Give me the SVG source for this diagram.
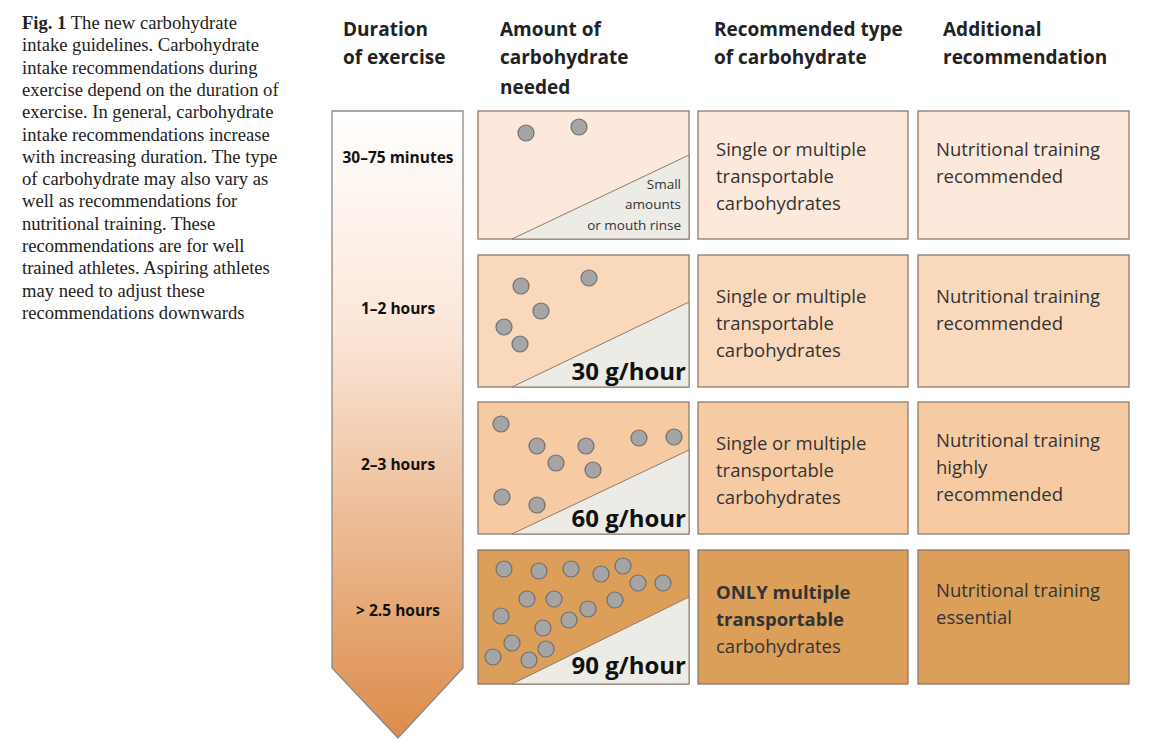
<svg xmlns="http://www.w3.org/2000/svg" width="1160" height="751" viewBox="0 0 1160 751">
<defs>
<linearGradient id="ag" x1="0" y1="0" x2="0" y2="1">
<stop offset="0" stop-color="#ffffff"/>
<stop offset="0.35" stop-color="#fbe6d8"/>
<stop offset="1" stop-color="#dc8c4a"/>
</linearGradient>
<style>
.cap{font-family:"Liberation Serif",serif;font-size:18.6px;fill:#222}
.h{font-family:"Open Sans","Noto Sans",sans-serif;font-size:19px;font-weight:bold;fill:#222}
.d{font-family:"Open Sans","Noto Sans",sans-serif;font-size:15.5px;font-weight:bold;fill:#111;text-anchor:middle}
.t{font-family:"Open Sans","Noto Sans",sans-serif;font-size:18.5px;fill:#333}
.s{font-family:"Open Sans","Noto Sans",sans-serif;font-size:13.5px;fill:#333;text-anchor:end}
.g{font-family:"Open Sans","Noto Sans",sans-serif;font-size:24px;font-weight:bold;fill:#111;text-anchor:end}
.box{stroke:#8e7b6b;stroke-width:1.3}
.tri{fill:#ecebe6;stroke:#8e7b6b;stroke-width:1}
.dot circle{fill:#a5a5a5;stroke:#6f6f6f;stroke-width:1.2}
</style>
</defs>
<rect width="1160" height="751" fill="#fff"/>
<text class="cap"><tspan x="22" y="29"><tspan font-weight="bold">Fig. 1</tspan>  The new carbohydrate</tspan><tspan x="22" y="51.3">intake guidelines. Carbohydrate</tspan><tspan x="22" y="73.6">intake recommendations during</tspan><tspan x="22" y="95.9">exercise depend on the duration of</tspan><tspan x="22" y="118.2">exercise. In general, carbohydrate</tspan><tspan x="22" y="140.5">intake recommendations increase</tspan><tspan x="22" y="162.8">with increasing duration. The type</tspan><tspan x="22" y="185.1">of carbohydrate may also vary as</tspan><tspan x="22" y="207.4">well as recommendations for</tspan><tspan x="22" y="229.7">nutritional training. These</tspan><tspan x="22" y="252">recommendations are for well</tspan><tspan x="22" y="274.3">trained athletes. Aspiring athletes</tspan><tspan x="22" y="296.6">may need to adjust these</tspan><tspan x="22" y="318.9">recommendations downwards</tspan></text>
<g id="headers">
<text class="h"><tspan x="343" y="36">Duration</tspan><tspan x="343" y="64">of exercise</tspan></text>
<text class="h"><tspan x="500" y="36">Amount of</tspan><tspan x="500" y="64">carbohydrate</tspan><tspan x="500" y="94">needed</tspan></text>
<text class="h"><tspan x="714" y="36">Recommended type</tspan><tspan x="714" y="64">of carbohydrate</tspan></text>
<text class="h"><tspan x="943" y="36">Additional</tspan><tspan x="943" y="64">recommendation</tspan></text>
</g>
<g id="arrow">
<path d="M332,111 H463 V668 L398,738 L332,668 Z" fill="url(#ag)" stroke="#8a8a8a" stroke-width="1.3"/>
<text class="d" x="398" y="163">30–75 minutes</text>
<text class="d" x="398" y="314">1–2 hours</text>
<text class="d" x="398" y="470">2–3 hours</text>
<text class="d" x="398" y="616">&gt; 2.5 hours</text>
</g>
<g id="row1">
<rect class="box" x="478" y="111" width="211" height="128" fill="#fce9dc"/>
<path class="tri" d="M512,239 L689,155 V239 Z"/>
<g class="dot"><circle cx="526" cy="133" r="8"/><circle cx="579" cy="127" r="8"/></g>
<text class="s"><tspan x="681" y="189">Small</tspan><tspan x="681" y="209">amounts</tspan><tspan x="681" y="230">or mouth rinse</tspan></text>
<rect class="box" x="698" y="111" width="210" height="128" fill="#fce9dc"/>
<text class="t"><tspan x="716" y="156">Single or multiple</tspan><tspan x="716" y="183">transportable</tspan><tspan x="716" y="210">carbohydrates</tspan></text>
<rect class="box" x="918" y="111" width="211" height="128" fill="#fce9dc"/>
<text class="t"><tspan x="936" y="156">Nutritional training</tspan><tspan x="936" y="183">recommended</tspan></text>
</g>
<g id="row2">
<rect class="box" x="478" y="255" width="211" height="132" fill="#f9d8bc"/>
<path class="tri" d="M512,387 L689,302 V387 Z"/>
<g class="dot"><circle cx="521" cy="286" r="8"/><circle cx="589" cy="278" r="8"/><circle cx="541" cy="311" r="8"/><circle cx="504" cy="327" r="8"/><circle cx="520" cy="344" r="8"/></g>
<text class="g" x="686" y="380">30 g/hour</text>
<rect class="box" x="698" y="255" width="210" height="132" fill="#f9d8bc"/>
<text class="t"><tspan x="716" y="303">Single or multiple</tspan><tspan x="716" y="330">transportable</tspan><tspan x="716" y="357">carbohydrates</tspan></text>
<rect class="box" x="918" y="255" width="211" height="132" fill="#f9d8bc"/>
<text class="t"><tspan x="936" y="303">Nutritional training</tspan><tspan x="936" y="330">recommended</tspan></text>
</g>
<g id="row3">
<rect class="box" x="478" y="402" width="211" height="132" fill="#f6cba3"/>
<path class="tri" d="M512,534 L689,450 V534 Z"/>
<g class="dot"><circle cx="501" cy="424" r="8"/><circle cx="537" cy="446" r="8"/><circle cx="586" cy="446" r="8"/><circle cx="639" cy="438" r="8"/><circle cx="674" cy="437" r="8"/><circle cx="556" cy="463" r="8"/><circle cx="593" cy="470" r="8"/><circle cx="502" cy="497" r="8"/><circle cx="537" cy="505" r="8"/></g>
<text class="g" x="686" y="527">60 g/hour</text>
<rect class="box" x="698" y="402" width="210" height="132" fill="#f6cba3"/>
<text class="t"><tspan x="716" y="450">Single or multiple</tspan><tspan x="716" y="477">transportable</tspan><tspan x="716" y="504">carbohydrates</tspan></text>
<rect class="box" x="918" y="402" width="211" height="132" fill="#f6cba3"/>
<text class="t"><tspan x="936" y="447">Nutritional training</tspan><tspan x="936" y="474">highly</tspan><tspan x="936" y="501">recommended</tspan></text>
</g>
<g id="row4">
<rect class="box" x="478" y="550" width="211" height="134" fill="#dc9f5a"/>
<path class="tri" d="M512,684 L689,597 V684 Z"/>
<g class="dot"><circle cx="504" cy="569" r="8"/><circle cx="539" cy="571" r="8"/><circle cx="571" cy="569" r="8"/><circle cx="601" cy="574" r="8"/><circle cx="623" cy="566" r="8"/><circle cx="638" cy="583" r="8"/><circle cx="663" cy="583" r="8"/><circle cx="527" cy="599" r="8"/><circle cx="554" cy="599" r="8"/><circle cx="615" cy="600" r="8"/><circle cx="588" cy="609" r="8"/><circle cx="501" cy="616" r="8"/><circle cx="569" cy="620" r="8"/><circle cx="543" cy="628" r="8"/><circle cx="512" cy="643" r="8"/><circle cx="546" cy="649" r="8"/><circle cx="493" cy="657" r="8"/><circle cx="529" cy="660" r="8"/></g>
<text class="g" x="686" y="674">90 g/hour</text>
<rect class="box" x="698" y="550" width="210" height="134" fill="#dc9f5a"/>
<text class="t"><tspan x="716" y="599" font-weight="bold">ONLY multiple</tspan><tspan x="716" y="626" font-weight="bold">transportable</tspan><tspan x="716" y="653">carbohydrates</tspan></text>
<rect class="box" x="918" y="550" width="211" height="134" fill="#dc9f5a"/>
<text class="t"><tspan x="936" y="597">Nutritional training</tspan><tspan x="936" y="624">essential</tspan></text>
</g>
</svg>
